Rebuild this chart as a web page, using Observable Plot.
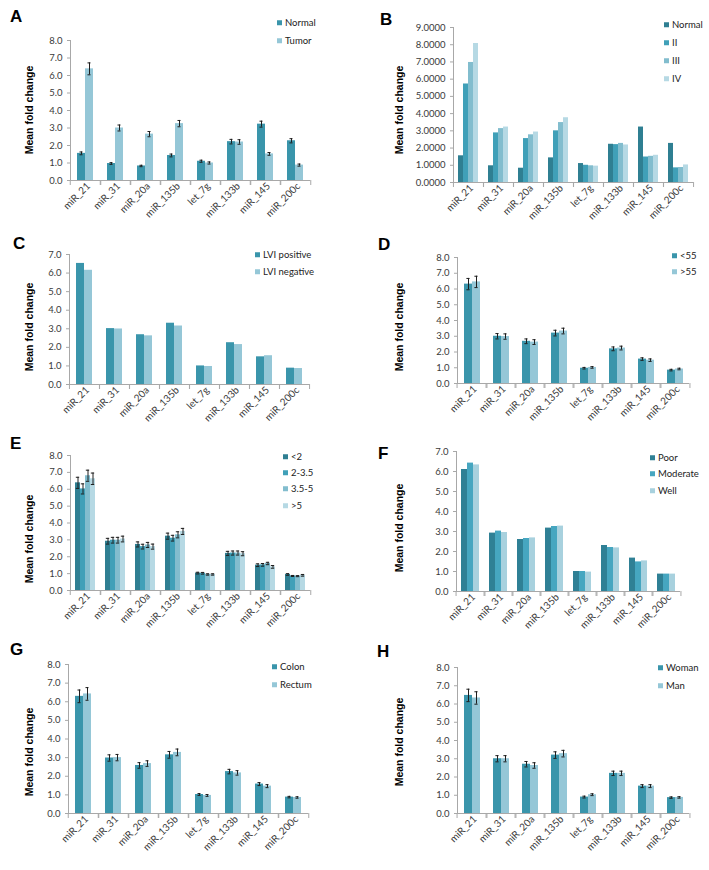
<!DOCTYPE html>
<html><head><meta charset="utf-8">
<script src="https://cdn.jsdelivr.net/npm/d3@7"></script>
<script src="https://cdn.jsdelivr.net/npm/@observablehq/plot@0.6"></script>
<style>
body{margin:0;background:#fff;}
#root{position:relative;width:709px;height:870px;overflow:hidden;background:#fff;font-family:Lato,sans-serif;}
.letter{position:absolute;font:bold 17px "Liberation Sans",Arial,sans-serif;line-height:1;color:#000}
.ytitle{position:absolute;font:bold 10.5px "Liberation Sans",Arial,sans-serif;white-space:nowrap;transform:translate(-50%,-50%) rotate(-90deg);color:#000;line-height:1}
.leg{position:absolute;font:9.5px Lato,sans-serif;color:#222;white-space:nowrap;transform:translateY(-50%);display:flex;align-items:center;line-height:1;width:max-content}
.leg .sw{display:inline-block;width:5px;height:5px;margin-right:3px}
svg.panel{position:absolute}
</style></head><body><div id="root"></div>
<script>
const categories = ["miR_21","miR_31","miR_20a","miR_135b","let_7g","miR_133b","miR_145","miR_200c"];
const ticks8 = [0,1,2,3,4,5,6,7,8];
const ticks7 = [0,1,2,3,4,5,6,7];
const ticks9 = [0,1,2,3,4,5,6,7,8,9];

// A: Normal vs Tumor
const seriesA = ["Normal","Tumor"];
const normalA = [1.55,0.97,0.83,1.43,1.10,2.22,3.22,2.27];
const normalErrA = [0.08,0.05,0.04,0.08,0.06,0.13,0.17,0.12];
const tumorA = [6.38,3.00,2.65,3.25,1.00,2.20,1.52,0.88];
const tumorErrA = [0.34,0.17,0.15,0.18,0.06,0.13,0.08,0.06];

// B: stage
const seriesB = ["Normal","II","III","IV"];
const normalB = [1.55,0.97,0.83,1.43,1.10,2.22,3.22,2.27];
const stageII = [5.72,2.88,2.55,3.00,1.00,2.20,1.48,0.85];
const stageIII = [6.97,3.13,2.77,3.48,0.97,2.27,1.52,0.87];
const stageIV = [8.07,3.22,2.93,3.76,0.95,2.18,1.58,1.02];

// C: LVI
const seriesC = ["LVI positive","LVI negative"];
const lviPos = [6.52,3.01,2.68,3.30,1.00,2.25,1.49,0.88];
const lviNeg = [6.15,2.99,2.62,3.15,0.97,2.15,1.55,0.86];

// D: age
const seriesD = ["<55",">55"];
const ageUnder55 = [6.31,3.00,2.68,3.20,0.97,2.20,1.55,0.85];
const ageUnder55Err = [0.36,0.17,0.15,0.18,0.05,0.12,0.08,0.05];
const ageOver55 = [6.45,2.98,2.63,3.33,1.02,2.25,1.48,0.92];
const ageOver55Err = [0.36,0.17,0.15,0.18,0.05,0.12,0.08,0.05];

// E: tumor size
const seriesE = ["<2","2-3.5","3.5-5",">5"];
const sizeLt2 = [6.38,2.92,2.73,3.22,1.03,2.20,1.50,0.95];
const sizeLt2Err = [0.33,0.17,0.15,0.18,0.05,0.12,0.08,0.05];
const size2to35 = [6.02,2.98,2.60,3.10,1.02,2.22,1.52,0.86];
const size2to35Err = [0.30,0.17,0.14,0.17,0.05,0.12,0.08,0.03];
const size35to5 = [6.80,2.98,2.70,3.30,0.95,2.22,1.60,0.85];
const size35to5Err = [0.33,0.17,0.15,0.18,0.04,0.12,0.07,0.03];
const sizeGt5 = [6.62,3.05,2.60,3.50,0.95,2.18,1.40,0.90];
const sizeGt5Err = [0.34,0.17,0.15,0.18,0.04,0.12,0.08,0.05];

// F: differentiation
const seriesF = ["Poor","Moderate","Well"];
const poor = [6.10,2.92,2.60,3.17,1.00,2.30,1.67,0.87];
const moderate = [6.42,3.02,2.65,3.25,1.00,2.20,1.48,0.87];
const well = [6.33,2.95,2.68,3.27,0.97,2.18,1.53,0.87];

// G: location
const seriesG = ["Colon","Rectum"];
const colon = [6.29,2.98,2.58,3.15,1.02,2.25,1.58,0.88];
const colonErr = [0.34,0.17,0.15,0.18,0.05,0.12,0.08,0.04];
const rectum = [6.42,3.00,2.68,3.28,0.97,2.18,1.47,0.86];
const rectumErr = [0.34,0.17,0.15,0.18,0.05,0.12,0.08,0.04];

// H: sex
const seriesH = ["Woman","Man"];
const woman = [6.47,3.00,2.70,3.20,0.90,2.20,1.50,0.87];
const womanErr = [0.34,0.17,0.15,0.18,0.05,0.12,0.08,0.04];
const man = [6.33,3.00,2.63,3.28,1.03,2.20,1.50,0.88];
const manErr = [0.34,0.17,0.15,0.18,0.05,0.12,0.08,0.04];

const colors2 = ["#3a95ab","#95c7d7"];
const colors3 = ["#2f8095","#46a6c0","#a8d1de"];
const colors4 = ["#2f7f92","#40a0b8","#82bdce","#b6d9e4"];

const axisColor = "#a8a8a8";
const textColor = "#3a3a3a";

const panels = [
  {letter:"A", lx:10, ly:8, left:0, top:0, width:355, height:220, ml:68, mr:43, mt:40, mb:40, ymax:8, ticks:ticks8, dec:1,
   series:seriesA, values:[normalA,tumorA], errors:[normalErrA,tumorErrA], colors:colors2, legX:277, legY:[23,41], tX:29, tY:110},
  {letter:"B", lx:380, ly:11, left:355, top:0, width:354, height:220, ml:97, mr:16, mt:27, mb:38, ymax:9, ticks:ticks9, dec:4,
   series:seriesB, values:[normalB,stageII,stageIII,stageIV], errors:null, colors:colors4, legX:664, legY:[25,43,61,79], tX:399, tY:110},
  {letter:"C", lx:13, ly:235, left:0, top:220, width:355, height:215, ml:68, mr:46, mt:34, mb:51, ymax:7, ticks:ticks7, dec:1,
   series:seriesC, values:[lviPos,lviNeg], errors:null, colors:colors2, legX:255, legY:[255,272], tX:29, tY:327},
  {letter:"D", lx:378, ly:236, left:355, top:220, width:354, height:215, ml:98, mr:17, mt:37, mb:52, ymax:8, ticks:ticks8, dec:1,
   series:seriesD, values:[ageUnder55,ageOver55], errors:[ageUnder55Err,ageOver55Err], colors:colors2, legX:672, legY:[256,272], tX:399, tY:327},
  {letter:"E", lx:10, ly:435, left:0, top:435, width:355, height:215, ml:68, mr:43, mt:20, mb:60, ymax:8, ticks:ticks8, dec:1,
   series:seriesE, values:[sizeLt2,size2to35,size35to5,sizeGt5], errors:[sizeLt2Err,size2to35Err,size35to5Err,sizeGt5Err], colors:colors4, legX:283, legY:[457,473,489,506], tX:29, tY:539},
  {letter:"F", lx:378, ly:445, left:355, top:435, width:354, height:215, ml:97, mr:26, mt:16, mb:59, ymax:7, ticks:ticks7, dec:1,
   series:seriesF, values:[poor,moderate,well], errors:null, colors:colors3, legX:650, legY:[458,474,491], tX:399, tY:528},
  {letter:"G", lx:10, ly:641, left:0, top:650, width:355, height:220, ml:66, mr:45, mt:14, mb:57, ymax:8, ticks:ticks8, dec:1,
   series:seriesG, values:[colon,rectum], errors:[colonErr,rectumErr], colors:colors2, legX:272, legY:[667,685], tX:29, tY:752},
  {letter:"H", lx:377, ly:643, left:355, top:650, width:354, height:220, ml:98, mr:17, mt:17, mb:57, ymax:8, ticks:ticks8, dec:1,
   series:seriesH, values:[woman,man], errors:[womanErr,manErr], colors:colors2, legX:658, legY:[668,686], tX:399, tY:742}
];

const root = document.getElementById("root");

function el(cls, text, x, y) {
  const d = document.createElement("div");
  d.className = cls;
  d.textContent = text;
  d.style.left = x + "px";
  d.style.top = y + "px";
  root.appendChild(d);
  return d;
}

for (const p of panels) {
  const rows = [];
  p.series.forEach((s, si) => categories.forEach((c, ci) => rows.push({
    cat: c, series: s, value: p.values[si][ci], err: p.errors ? p.errors[si][ci] : 0
  })));
  const fw = (p.width - p.ml - p.mr) / categories.length;
  const po = 0.7;
  const bw = fw / (p.series.length + 2 * po);
  const capInset = Math.max(0, (bw - 4) / 2);
  const last = categories[categories.length - 1];
  const marks = [
    Plot.barY(rows, {fx: "cat", x: "series", y: "value", fill: "series"}),
    Plot.ruleY([0], {stroke: axisColor}),
    Plot.frame({anchor: "left", facetAnchor: "left", stroke: axisColor}),
    Plot.axisY({ticks: p.ticks, tickFormat: d => d.toFixed(p.dec), tickSize: 3, tickPadding: 5,
      stroke: axisColor, fill: textColor, fontSize: 9.5, label: null}),
    Plot.axisFx({anchor: "bottom", tickSize: 0, tickRotate: -45, tickPadding: 4, dx: 3,
      fontSize: 10, fill: textColor, label: null}),
    Plot.axisFx({anchor: "bottom", tickSize: 5, tickFormat: () => "", dx: -fw / 2, stroke: axisColor, label: null}),
    Plot.axisFx([last], {anchor: "bottom", tickSize: 5, tickFormat: () => "", dx: fw / 2, stroke: axisColor, label: null})
  ];
  if (p.errors) {
    marks.push(
      Plot.ruleX(rows, {fx: "cat", x: "series", y1: d => d.value - d.err, y2: d => d.value + d.err, stroke: "#1e1e1e", strokeWidth: 1}),
      Plot.tickY(rows, {fx: "cat", x: "series", y: d => d.value + d.err, stroke: "#1e1e1e", insetLeft: capInset, insetRight: capInset}),
      Plot.tickY(rows, {fx: "cat", x: "series", y: d => d.value - d.err, stroke: "#1e1e1e", insetLeft: capInset, insetRight: capInset})
    );
  }
  const svg = Plot.plot({
    width: p.width, height: p.height,
    marginLeft: p.ml, marginRight: p.mr, marginTop: p.mt, marginBottom: p.mb,
    fx: {domain: categories, padding: 0, label: null},
    x: {domain: p.series, paddingInner: 0, paddingOuter: po, axis: null},
    y: {domain: [0, p.ymax]},
    color: {domain: p.series, range: p.colors},
    style: {fontFamily: "Lato, sans-serif", background: "transparent", overflow: "visible"},
    marks
  });
  svg.classList.add("panel");
  svg.style.left = p.left + "px";
  svg.style.top = p.top + "px";
  root.appendChild(svg);

  el("letter", p.letter, p.lx, p.ly);
  el("ytitle", "Mean fold change", p.tX, p.tY);
  p.series.forEach((s, i) => {
    const d = document.createElement("div");
    d.className = "leg";
    d.style.left = p.legX + "px";
    d.style.top = p.legY[i] + "px";
    const sw = document.createElement("span");
    sw.className = "sw";
    sw.style.background = p.colors[i];
    d.appendChild(sw);
    d.appendChild(document.createTextNode(s));
    root.appendChild(d);
  });
}
</script></body></html>
